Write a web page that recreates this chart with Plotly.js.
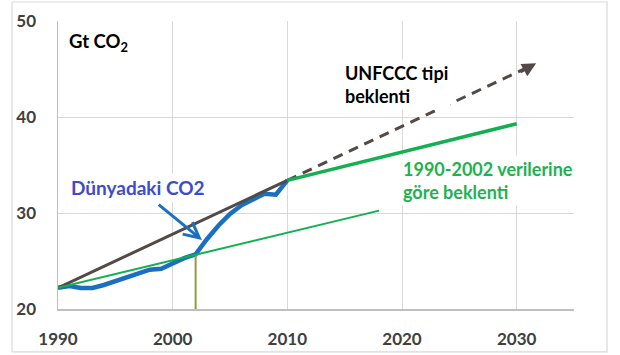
<!DOCTYPE html>
<html>
<head>
<meta charset="utf-8">
<script src="https://cdn.plot.ly/plotly-3.0.1.min.js"></script>
<style>html,body{margin:0;padding:0;background:#fff;}#chart{width:620px;height:355px;}</style>
</head>
<body>
<div id="chart"></div>
<script>
// Observed world CO2 emissions (Gt CO2)
const years = [1990,1991,1992,1993,1994,1995,1996,1997,1998,1999,2000,2001,2002,2003,2004,2005,2006,2007,2008,2009,2010];
const worldCO2 = [22.2,22.4,22.2,22.2,22.5,22.9,23.4,23.8,24.1,24.2,24.8,25.3,25.7,27.3,28.7,29.9,30.8,31.4,32.0,31.9,33.4];

// UNFCCC-type trend (solid part and dashed projection)
const unfcccYears = [1990,2010];
const unfcccVals = [22.2,33.4];
const unfcccProjYears = [2010,2031];
const unfcccProjVals = [33.4,45.2];
const unfcccArrowTail = [2030.2,44.6];
const unfcccArrowHead = [2031.7,45.6];

// 1990-2002 based trend
const trendYears = [1990,2018];
const trendVals = [22.2,30.25];
const trendThickYears = [2010,2030];
const trendThickVals = [33.4,39.3];

// 2002 marker
const markYears = [2002,2002];
const markVals = [20,25.7];

// Arrow pointing at observed curve
const blueArrowTail = [1998.65,31.0];
const blueArrowHead = [2002.55,27.2];

const xTicks = [1990,2000,2010,2020,2030];
const yTicks = [20,30,40,50];

const FONT = 'Lato, "Open Sans", "DejaVu Sans", sans-serif';
const GREY = '#524a46';
const GREEN = '#12b050';
const BLUE = '#1a6fc0';

const traces = [
  {x: years, y: worldCO2, mode: 'lines', line: {color: BLUE, width: 4.5}, hoverinfo: 'skip'},
  {x: markYears, y: markVals, mode: 'lines', line: {color: '#8f9a45', width: 2}, hoverinfo: 'skip'},
  {x: unfcccYears, y: unfcccVals, mode: 'lines', line: {color: GREY, width: 3}, hoverinfo: 'skip'},
  {x: unfcccProjYears, y: unfcccProjVals, mode: 'lines', line: {color: GREY, width: 3, dash: '10px,7px'}, hoverinfo: 'skip'},
  {x: trendYears, y: trendVals, mode: 'lines', line: {color: GREEN, width: 2}, hoverinfo: 'skip'},
  {x: trendThickYears, y: trendThickVals, mode: 'lines', line: {color: GREEN, width: 3.5}, hoverinfo: 'skip'}
];

const layout = {
  width: 620, height: 355,
  margin: {l: 58, r: 46, t: 21, b: 46},
  paper_bgcolor: '#ffffff', plot_bgcolor: '#ffffff',
  showlegend: false,
  font: {family: FONT},
  xaxis: {
    range: [1990, 2035], tickvals: xTicks, ticktext: xTicks.map(String),
    showgrid: true, gridcolor: '#d9d9d9', gridwidth: 1,
    showline: true, linecolor: '#bfbfbf', linewidth: 1.5,
    zeroline: false, ticks: '', ticklabelstandoff: 14,
    tickfont: {family: FONT, size: 17, color: '#404040', weight: 'bold'}
  },
  yaxis: {
    range: [20, 50], tickvals: yTicks, ticktext: yTicks.map(String),
    showgrid: true, gridcolor: '#d9d9d9', gridwidth: 1,
    showline: true, linecolor: '#bfbfbf', linewidth: 1.5,
    zeroline: false, ticks: '', ticklabelstandoff: 17,
    tickfont: {family: FONT, size: 17, color: '#404040', weight: 'bold'}
  },
  shapes: [
    {type: 'rect', xref: 'paper', yref: 'paper', x0: -0.0891, x1: 1.064, y0: -0.149, y1: 1.066,
     line: {color: '#d9d9d9', width: 1.2}, fillcolor: 'rgba(0,0,0,0)', layer: 'below'}
  ],
  annotations: [
    {x: 1990.85, y: 47.8, xref: 'x', yref: 'y', xanchor: 'left', yanchor: 'middle', showarrow: false,
     text: 'Gt CO<sub>2</sub>', bgcolor: '#ffffff', borderpad: 0,
     font: {family: FONT, size: 18.5, color: '#000000', weight: 'bold'}},
    {x: 2014.8, y: 43.4, xref: 'x', yref: 'y', xanchor: 'left', yanchor: 'middle', align: 'left', showarrow: false,
     text: 'UNFCCC tipi<br>beklenti', bgcolor: '#ffffff', borderpad: 2,
     font: {family: FONT, size: 18, color: '#000000', weight: 'bold'}},
    {x: 2019.8, y: 33.4, xref: 'x', yref: 'y', xanchor: 'left', yanchor: 'middle', align: 'left', showarrow: false,
     text: '1990-2002 verilerine<br>göre beklenti', bgcolor: '#ffffff', borderpad: 2,
     font: {family: FONT, size: 18, color: '#1db24e', weight: 'bold'}},
    {x: 1990.9, y: 32.65, xref: 'x', yref: 'y', xanchor: 'left', yanchor: 'middle', showarrow: false,
     text: 'Dünyadaki CO2', bgcolor: '#ffffff', borderpad: 2,
     font: {family: FONT, size: 19, color: '#3d4ccc', weight: 'bold'}},
    {x: blueArrowHead[0], y: blueArrowHead[1], ax: blueArrowTail[0], ay: blueArrowTail[1],
     xref: 'x', yref: 'y', axref: 'x', ayref: 'y', text: '', showarrow: true,
     arrowhead: 5, arrowsize: 1.0, arrowwidth: 3, arrowcolor: BLUE},
    {x: unfcccArrowHead[0], y: unfcccArrowHead[1], ax: unfcccArrowTail[0], ay: unfcccArrowTail[1],
     xref: 'x', yref: 'y', axref: 'x', ayref: 'y', text: '', showarrow: true,
     arrowhead: 2, arrowsize: 1, arrowwidth: 2.8, arrowcolor: GREY}
  ]
};

Plotly.newPlot('chart', traces, layout, {displayModeBar: false, staticPlot: true});
</script>
</body>
</html>
